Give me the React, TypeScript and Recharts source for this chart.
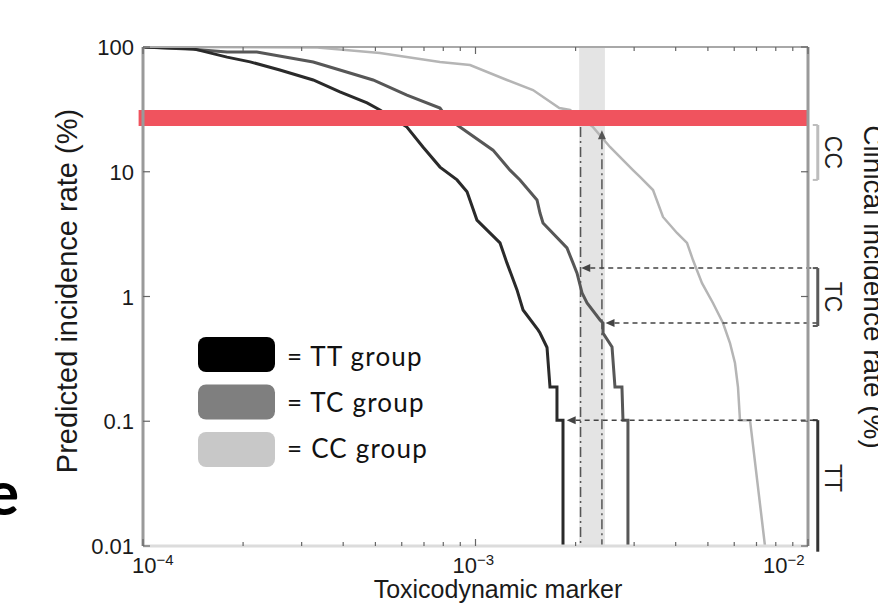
import React from 'react';
import { ComposedChart, Line, XAxis, YAxis, ReferenceArea, ReferenceLine } from 'recharts';

// toxicodynamic marker (x) against predicted incidence rate in % (y)
const ttMarker = [1.0e-4, 1.41e-4, 1.79e-4, 2.1e-4, 2.58e-4, 3.25e-4, 3.91e-4, 4.72e-4, 5.16e-4, 6.22e-4, 6.95e-4, 7.82e-4, 8.8e-4, 9.43e-4, 1.01e-3, 1.185e-3, 1.243e-3, 1.333e-3, 1.39e-3, 1.542e-3, 1.563e-3, 1.641e-3, 1.675e-3, 1.758e-3, 1.758e-3, 1.833e-3, 1.833e-3];
const ttRate = [100, 97, 83, 76, 65.4, 54.4, 43.6, 35.6, 31.3, 22.8, 15.8, 10.9, 8.6, 6.9, 4.1, 2.69, 1.86, 1.13, 0.78, 0.54, 0.51, 0.39, 0.188, 0.188, 0.102, 0.102, 0.01];

const tcMarker = [1.0e-4, 1.41e-4, 1.79e-4, 2.2e-4, 3.25e-4, 3.91e-4, 4.92e-4, 6.22e-4, 7.82e-4, 8.21e-4, 8.98e-4, 1.129e-3, 1.27e-3, 1.361e-3, 1.531e-3, 1.563e-3, 1.596e-3, 1.884e-3, 1.964e-3, 2.02e-3, 2.091e-3, 2.165e-3, 2.369e-3, 2.418e-3, 2.418e-3, 2.574e-3, 2.627e-3, 2.757e-3, 2.777e-3, 2.874e-3, 2.874e-3];
const tcRate = [100, 96, 91.2, 91.2, 75.8, 65.4, 54.4, 41.2, 32.4, 27.0, 22.8, 14.9, 10.3, 8.59, 5.94, 4.67, 3.88, 2.45, 1.86, 1.54, 1.07, 0.887, 0.648, 0.613, 0.51, 0.394, 0.188, 0.188, 0.102, 0.102, 0.01];

const ccMarker = [1.0e-4, 3.34e-4, 5.16e-4, 7.82e-4, 9.63e-4, 1.243e-3, 1.489e-3, 1.787e-3, 1.924e-3, 2.257e-3, 2.538e-3, 2.976e-3, 3.124e-3, 3.419e-3, 3.664e-3, 4.036e-3, 4.326e-3, 4.509e-3, 4.8e-3, 5.178e-3, 5.551e-3, 5.826e-3, 6.031e-3, 6.158e-3, 6.244e-3, 6.693e-3, 7.424e-3];
const ccRate = [100, 99, 89.5, 75.8, 71.7, 54.4, 45.2, 32.4, 31.3, 22.8, 15.8, 10.3, 9.08, 7.14, 4.34, 3.23, 2.69, 1.96, 1.28, 0.887, 0.613, 0.424, 0.293, 0.188, 0.102, 0.102, 0.01];

// axes
const xTicks = [1e-4, 2e-4, 3e-4, 4e-4, 5e-4, 6e-4, 7e-4, 8e-4, 9e-4, 1e-3, 2e-3, 3e-3, 4e-3, 5e-3, 6e-3, 7e-3, 8e-3, 9e-3, 1e-2];
const yTicks = [0.01, 0.1, 1, 10, 100];
const yTickLabels = ['0.01', '0.1', '1', '10', '100'];

// annotations
const thresholdRate = 27;
const thresholdSpan = [9.7e-5, 1e-2];
const bandMarker = [2.05e-3, 2.45e-3];
const guideMarker = [2.07e-3, 2.4e-3];
const guideTop = [22.8, 21.5];
const arrowRates = [1.69, 0.613, 0.102];
const arrowTips = [2.08e-3, 2.46e-3, 1.88e-3];
const bracketMarker = 0.0107;
const bracketGroups = ['CC', 'TC', 'TT'];
const bracketTop = [23.7, 1.69, 0.102];
const bracketBottom = [8.6, 0.58, 0.009];
const bracketColors = ['#bdbdbd', '#5a5a5a', '#333333'];

const legendGroups = ['TT', 'TC', 'CC'];
const legendColors = ['#000000', '#7f7f7f', '#c8c8c8'];

const toPoints = (xs: number[], ys: number[]) => xs.map((x, i) => ({ x, y: ys[i] }));
const ttData = toPoints(ttMarker, ttRate);
const tcData = toPoints(tcMarker, tcRate);
const ccData = toPoints(ccMarker, ccRate);

const FONT = '"Liberation Sans", Arial, sans-serif';
const isDecade = (v: number) => Math.abs(Math.log10(v) - Math.round(Math.log10(v))) < 1e-6;
const labelShift: Record<string, number> = { '-4': -11, '-3': -23, '-2': -45 };

const XTick = (props: any) => {
  const { x, y, payload, side } = props;
  const dec = isDecade(payload.value);
  const len = dec ? 7 : 4;
  const dir = side === 'top' ? 1 : -1;
  const exp = Math.round(Math.log10(payload.value));
  return (
    <g>
      <line x1={x} y1={y} x2={x} y2={y + dir * len} stroke="#666" strokeWidth={1.2} />
      {side === 'bottom' && dec && (
        <text x={x + labelShift[String(exp)]} y={y + 27} fontSize={22} fontFamily={FONT} fill="#1a1a1a">
          <tspan>10</tspan>
          <tspan dy={-8} fontSize={15}>{'\u2212' + Math.abs(exp)}</tspan>
        </text>
      )}
    </g>
  );
};

const YTick = (props: any) => {
  const { x, y, payload, side } = props;
  const dir = side === 'left' ? 1 : -1;
  const idx = yTicks.indexOf(payload.value);
  return (
    <g>
      <line x1={x} y1={y} x2={x + dir * 7} y2={y} stroke="#666" strokeWidth={1.2} />
      {side === 'left' && (
        <text x={x - 9} y={y + 8} textAnchor="end" fontSize={22} fontFamily={FONT} fill="#1a1a1a">
          {yTickLabels[idx]}
        </text>
      )}
    </g>
  );
};

const ArrowLine = (props: any) => {
  const { x1, y1, x2, y2, dash, color } = props;
  const dx = x2 - x1;
  const dy = y2 - y1;
  const len = Math.hypot(dx, dy) || 1;
  const ux = dx / len;
  const uy = dy / len;
  const head = 9;
  const half = 4;
  const bx = x1 + ux * head;
  const by = y1 + uy * head;
  return (
    <g>
      <line x1={bx} y1={by} x2={x2} y2={y2} stroke={color} strokeWidth={1.5} strokeDasharray={dash} />
      <polygon
        points={`${x1},${y1} ${bx - uy * half},${by + ux * half} ${bx + uy * half},${by - ux * half}`}
        fill={color}
      />
    </g>
  );
};

const Bracket = (props: any) => {
  const { x1, y1, y2, color, label, capBottom } = props;
  const top = Math.min(y1, y2);
  const bot = Math.max(y1, y2);
  return (
    <g>
      <line x1={x1} y1={top} x2={x1} y2={bot} stroke={color} strokeWidth={3} />
      <line x1={x1 - 5} y1={top} x2={x1} y2={top} stroke={color} strokeWidth={2} />
      {capBottom && <line x1={x1 - 5} y1={bot} x2={x1} y2={bot} stroke={color} strokeWidth={2} />}
      <text
        transform={`translate(${x1 + 7},${(top + Math.min(bot, 546)) / 2 - (label === 'TT' ? 5 : 0)}) rotate(90)`}
        textAnchor="middle"
        fontSize={23}
        fontFamily={FONT}
        fill="#222"
      >
        {label}
      </text>
    </g>
  );
};

const App = () => {
  return (
    <div style={{ position: 'absolute', left: 0, top: 0, width: 878, height: 607, background: '#fff', overflow: 'hidden' }}>
      <ComposedChart width={878} height={607} margin={{ top: 45, right: 0, bottom: 0, left: 0 }}>
        <XAxis
          xAxisId="b"
          dataKey="x"
          type="number"
          scale="log"
          domain={[1e-4, 1e-2]}
          allowDataOverflow
          ticks={xTicks}
          interval={0}
          height={61}
          tickSize={0}
          tickMargin={0}
          tickLine={false}
          axisLine={{ stroke: '#dcdcdc', strokeWidth: 3 }}
          tick={(p: any) => <XTick {...p} side="bottom" />}
        />
        <XAxis
          xAxisId="t"
          orientation="top"
          dataKey="x"
          type="number"
          scale="log"
          domain={[1e-4, 1e-2]}
          allowDataOverflow
          ticks={xTicks}
          interval={0}
          height={2}
          tickSize={0}
          tickMargin={0}
          tickLine={false}
          axisLine={{ stroke: '#a8a8a8', strokeWidth: 2 }}
          tick={(p: any) => <XTick {...p} side="top" />}
        />
        <YAxis
          yAxisId="l"
          type="number"
          scale="log"
          domain={[0.01, 100]}
          allowDataOverflow
          ticks={yTicks}
          interval={0}
          width={143}
          tickSize={0}
          tickMargin={0}
          tickLine={false}
          axisLine={{ stroke: '#9a9a9a', strokeWidth: 3 }}
          tick={(p: any) => <YTick {...p} side="left" />}
        />
        <YAxis
          yAxisId="r"
          orientation="right"
          type="number"
          scale="log"
          domain={[0.01, 100]}
          allowDataOverflow
          ticks={yTicks}
          interval={0}
          width={70}
          tickSize={0}
          tickMargin={0}
          tickLine={false}
          axisLine={{ stroke: '#9a9a9a', strokeWidth: 3 }}
          tick={(p: any) => <YTick {...p} side="right" />}
        />

        <ReferenceArea
          xAxisId="b"
          yAxisId="l"
          x1={bandMarker[0]}
          x2={bandMarker[1]}
          y1={0.01}
          y2={100}
          fill="#e4e4e4"
          fillOpacity={1}
          stroke="none"
        />

        <Line xAxisId="b" yAxisId="l" data={ccData} dataKey="y" type="linear" stroke="#b5b5b5" strokeWidth={2.5} dot={false} isAnimationActive={false} />
        <Line xAxisId="b" yAxisId="l" data={tcData} dataKey="y" type="linear" stroke="#575757" strokeWidth={3} dot={false} isAnimationActive={false} />
        <Line xAxisId="b" yAxisId="l" data={ttData} dataKey="y" type="linear" stroke="#2a2a2a" strokeWidth={3} dot={false} isAnimationActive={false} />

        <ReferenceLine
          xAxisId="b"
          yAxisId="l"
          segment={[{ x: thresholdSpan[0], y: thresholdRate }, { x: thresholdSpan[1], y: thresholdRate }]}
          stroke="#f0535e"
          strokeWidth={16}
          ifOverflow="visible"
        />

        <ReferenceLine
          xAxisId="b"
          yAxisId="l"
          segment={[{ x: guideMarker[0], y: guideTop[0] }, { x: guideMarker[0], y: 0.01 }]}
          stroke="#555"
          strokeWidth={1.5}
          strokeDasharray="10 4 2 4"
          ifOverflow="visible"
        />
        <ReferenceLine
          xAxisId="b"
          yAxisId="l"
          segment={[{ x: guideMarker[1], y: guideTop[1] }, { x: guideMarker[1], y: 0.01 }]}
          ifOverflow="visible"
          shape={(p: any) => <ArrowLine {...p} color="#555" dash="10 4 2 4" />}
        />

        {arrowRates.map((r, i) => (
          <ReferenceLine
            key={'arrow' + i}
            xAxisId="b"
            yAxisId="l"
            segment={[{ x: arrowTips[i], y: r }, { x: bracketMarker, y: r }]}
            ifOverflow="visible"
            shape={(p: any) => <ArrowLine {...p} color="#444" dash="5 4" />}
          />
        ))}

        {bracketGroups.map((g, i) => (
          <ReferenceLine
            key={'bracket' + g}
            xAxisId="b"
            yAxisId="l"
            segment={[{ x: bracketMarker, y: bracketTop[i] }, { x: bracketMarker, y: bracketBottom[i] }]}
            ifOverflow="visible"
            shape={(p: any) => <Bracket {...p} color={bracketColors[i]} label={g} capBottom={g !== 'TT'} />}
          />
        ))}
      </ComposedChart>

      <svg width={878} height={607} style={{ position: 'absolute', left: 0, top: 0, pointerEvents: 'none' }}>
        <text transform="translate(77,291) rotate(-90)" textAnchor="middle" fontSize={29} fontFamily={FONT} fill="#1a1a1a">
          Predicted incidence rate (%)
        </text>
        <text transform="translate(864,287) rotate(90)" textAnchor="middle" fontSize={28} fontFamily={FONT} fill="#1a1a1a">
          Clinical incidence rate (%)
        </text>
        <text x={498} y={598} textAnchor="middle" fontSize={25} fontFamily={FONT} fill="#1a1a1a">
          Toxicodynamic marker
        </text>
        {legendGroups.map((g, i) => (
          <g key={g}>
            <rect x={198} y={337 + i * 47.5} width={77} height={35} rx={8} fill={legendColors[i]} />
            <text x={287} y={366 + i * 46} fontSize={26} letterSpacing={1.2} fontFamily="Lato, 'Open Sans', sans-serif" fill="#111">
              {'= ' + g + ' group'}
            </text>
          </g>
        ))}
        <text x={-14} y={515} fontSize={62} fontWeight="bold" fontFamily="Lato, sans-serif" fill="#000">
          e
        </text>
      </svg>
    </div>
  );
};

export default App;
